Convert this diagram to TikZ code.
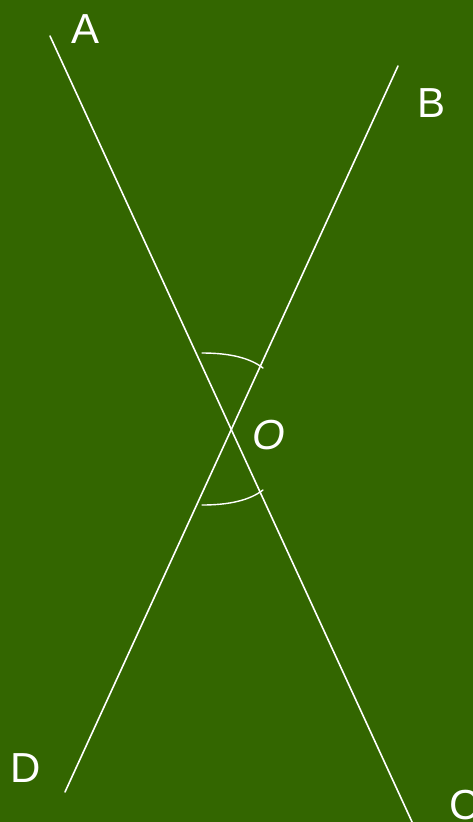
\documentclass[tikz,border=0pt]{standalone}
\usepackage{fontspec}
\setmainfont{Liberation Sans}
\usepackage{xcolor}
\definecolor{board}{HTML}{336600}

\begin{document}
\begin{tikzpicture}[x=1pt,y=-1pt,line cap=round,
  chalk/.style={white,line width=1.6pt},
  lbl/.style={text=white,font=\fontsize{42}{44}\selectfont,inner sep=0pt}]
\useasboundingbox (0,0) rectangle (473,822);
\clip (0,0) rectangle (473,822);
\fill[board] (0,0) rectangle (473,822);
% ends of the two lines
\coordinate (a) at (50,36);
\coordinate (c) at (413,824);
\coordinate (b) at (398,66);
\coordinate (d) at (65,792);
\draw[chalk] (a) -- (c);
\draw[chalk] (b) -- (d);
% vertical angles
\coordinate (u1) at (202,353);
\coordinate (u2) at (263,368);
\coordinate (l1) at (202,505);
\coordinate (l2) at (263,490);
\draw[chalk,line width=1.4pt] (u1) .. controls (230,353) and (250,358) .. (u2);
\draw[chalk,line width=1.4pt] (l1) .. controls (230,505) and (250,500) .. (l2);
% labels
\node[lbl] (la) at (86,29) {A};
\node[lbl] (lb) at (432,103) {B};
\node[lbl] (lo) at (269,435) {\itshape O};
\node[lbl] (ld) at (26,768) {D};
\node[lbl] (lc) at (465,805) {C};
\end{tikzpicture}
\end{document}
